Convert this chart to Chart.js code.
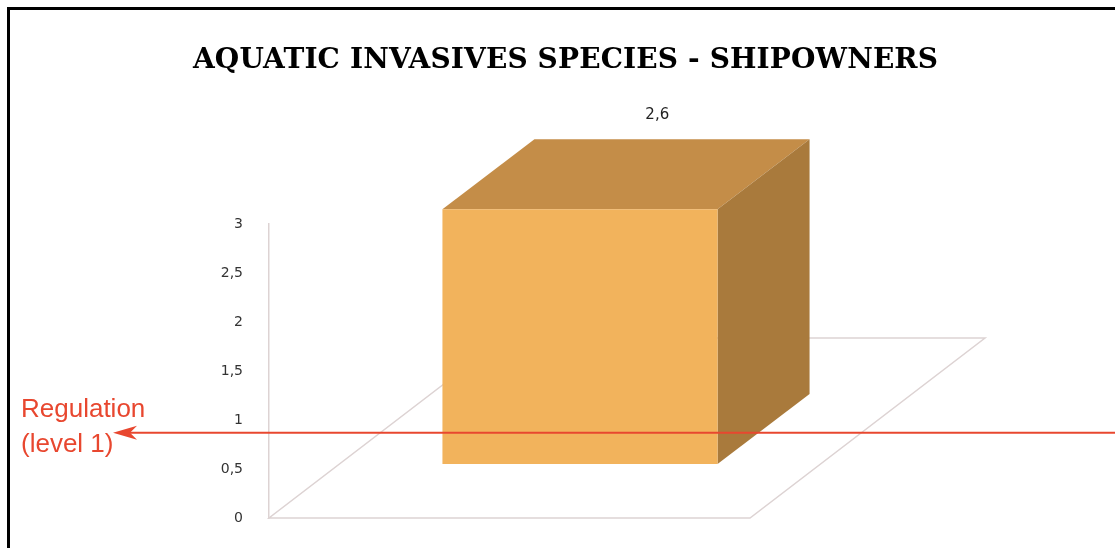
<!DOCTYPE html>
<html lang="en">
<head>
<meta charset="UTF-8">
<title>Aquatic invasives species - shipowners</title>
<script src="https://cdn.jsdelivr.net/npm/chart.js"></script>
<style>
    body {
        margin: 0;
        background: #fff;
        overflow: hidden;
    }
    .frame {
        position: absolute;
        left: 7px;
        top: 7px;
        width: 1200px;
        height: 700px;
        border-left: 3px solid #000;
        border-top: 3px solid #000;
    }
    canvas {
        position: absolute;
        left: 0;
        top: 0;
    }
</style>
</head>
<body>
<div class="frame"></div>
<canvas id="chart" width="1115" height="548"></canvas>
<script>
// data
const categories = [''];
const values = [2.6];
const yTicks = [0, 0.5, 1, 1.5, 2, 2.5, 3];
const regulationLevel = 0.87;
const regulationLabel = ['Regulation', '(level 1)'];
const chartTitle = 'AQUATIC INVASIVES SPECIES - SHIPOWNERS';

const fmt = v => String(v).replace('.', ',');

// 3d look: floor depth, bar depth, bar sits part way into the floor
const floorDepth = { dx: 235, dy: -180 };
const barDepth = { dx: 92, dy: -70 };
const barShift = 0.3;

const fake3d = {
    id: 'fake3d',
    beforeDatasetsDraw(chart) {
        const ctx = chart.ctx;
        const area = chart.chartArea;
        const y0 = chart.scales.y.getPixelForValue(0);

        // title, centred on the whole page
        ctx.save();
        ctx.fillStyle = '#000';
        ctx.font = 'bold 28px "DejaVu Serif"';
        ctx.textBaseline = 'alphabetic';
        ctx.textAlign = 'left';
        const plain = ctx.measureText(chartTitle).width;
        const gap = (745 - plain) / (chartTitle.length - 1);
        ctx.letterSpacing = gap + 'px';
        ctx.fillText(chartTitle, chart.width / 2 + 8 - 745 / 2, 68);
        ctx.restore();

        // floor
        ctx.save();
        ctx.strokeStyle = '#ddd3d3';
        ctx.lineWidth = 1.5;
        ctx.beginPath();
        ctx.moveTo(area.left, y0);
        ctx.lineTo(area.right, y0);
        ctx.lineTo(area.right + floorDepth.dx, y0 + floorDepth.dy);
        ctx.lineTo(area.left + floorDepth.dx, y0 + floorDepth.dy);
        ctx.closePath();
        ctx.stroke();
        ctx.restore();

        const meta = chart.getDatasetMeta(0);
        const sx = floorDepth.dx * barShift, sy = floorDepth.dy * barShift;
        meta.data.forEach(bar => {
            const l = bar.x - bar.width / 2 + sx, r = bar.x + bar.width / 2 + sx;
            const t = bar.y + sy, b = bar.base + sy;
            // top face
            ctx.save();
            ctx.fillStyle = '#c48d48';
            ctx.beginPath();
            ctx.moveTo(l, t);
            ctx.lineTo(l + barDepth.dx, t + barDepth.dy);
            ctx.lineTo(r + barDepth.dx, t + barDepth.dy);
            ctx.lineTo(r, t);
            ctx.closePath();
            ctx.fill();
            // side face
            ctx.fillStyle = '#a97a3c';
            ctx.beginPath();
            ctx.moveTo(r, t);
            ctx.lineTo(r + barDepth.dx, t + barDepth.dy);
            ctx.lineTo(r + barDepth.dx, b + barDepth.dy);
            ctx.lineTo(r, b);
            ctx.closePath();
            ctx.fill();
            ctx.restore();
        });
    },
    beforeDatasetDraw(chart) {
        chart.ctx.save();
        chart.ctx.translate(floorDepth.dx * barShift, floorDepth.dy * barShift);
    },
    afterDatasetDraw(chart) {
        chart.ctx.restore();
    },
    afterDatasetsDraw(chart) {
        const ctx = chart.ctx;
        const meta = chart.getDatasetMeta(0);
        const sx = floorDepth.dx * barShift, sy = floorDepth.dy * barShift;
        // value labels
        ctx.save();
        ctx.font = '15px "DejaVu Sans"';
        ctx.fillStyle = '#222';
        ctx.textAlign = 'center';
        ctx.textBaseline = 'middle';
        meta.data.forEach((bar, i) => {
            ctx.fillText(fmt(values[i]), bar.x + sx + barDepth.dx * 0.84, bar.y + sy + barDepth.dy - 24);
        });
        ctx.restore();

        // regulation arrow
        const y = chart.scales.y.getPixelForValue(regulationLevel);
        const tip = 113;
        ctx.save();
        ctx.strokeStyle = '#e8472f';
        ctx.fillStyle = '#e8472f';
        ctx.lineWidth = 2;
        ctx.beginPath();
        ctx.moveTo(tip + 10, y);
        ctx.lineTo(chart.width, y);
        ctx.stroke();
        ctx.beginPath();
        ctx.moveTo(tip, y);
        ctx.lineTo(tip + 24, y - 7);
        ctx.lineTo(tip + 17, y);
        ctx.lineTo(tip + 24, y + 7);
        ctx.closePath();
        ctx.fill();
        ctx.font = '26px "Liberation Sans"';
        ctx.textAlign = 'left';
        ctx.textBaseline = 'middle';
        ctx.fillText(regulationLabel[0], 21, y - 23);
        ctx.fillText(regulationLabel[1], 21, y + 12);
        ctx.restore();
    }
};

new Chart(document.getElementById('chart'), {
    type: 'bar',
    data: {
        labels: categories,
        datasets: [{
            data: values,
            backgroundColor: '#f2b35c',
            borderWidth: 0,
            barPercentage: 1,
            categoryPercentage: 0.572
        }]
    },
    options: {
        responsive: false,
        animation: false,
        layout: { padding: { left: 180, right: 365, top: 224, bottom: 30 } },
        plugins: {
            legend: { display: false },
            tooltip: { enabled: false },
            title: { display: false }
        },
        scales: {
            x: { display: false },
            y: {
                min: 0,
                max: 3,
                afterFit: s => { s.width = 89; },
                afterBuildTicks: s => { s.ticks = yTicks.map(v => ({ value: v })); },
                grid: { display: false },
                border: { display: true, color: '#ddd3d3', width: 1.5 },
                ticks: {
                    padding: 18,
                    color: '#333',
                    font: { family: '"DejaVu Sans"', size: 14 },
                    callback: v => fmt(v)
                }
            }
        }
    },
    plugins: [fake3d]
});
</script>
</body>
</html>
